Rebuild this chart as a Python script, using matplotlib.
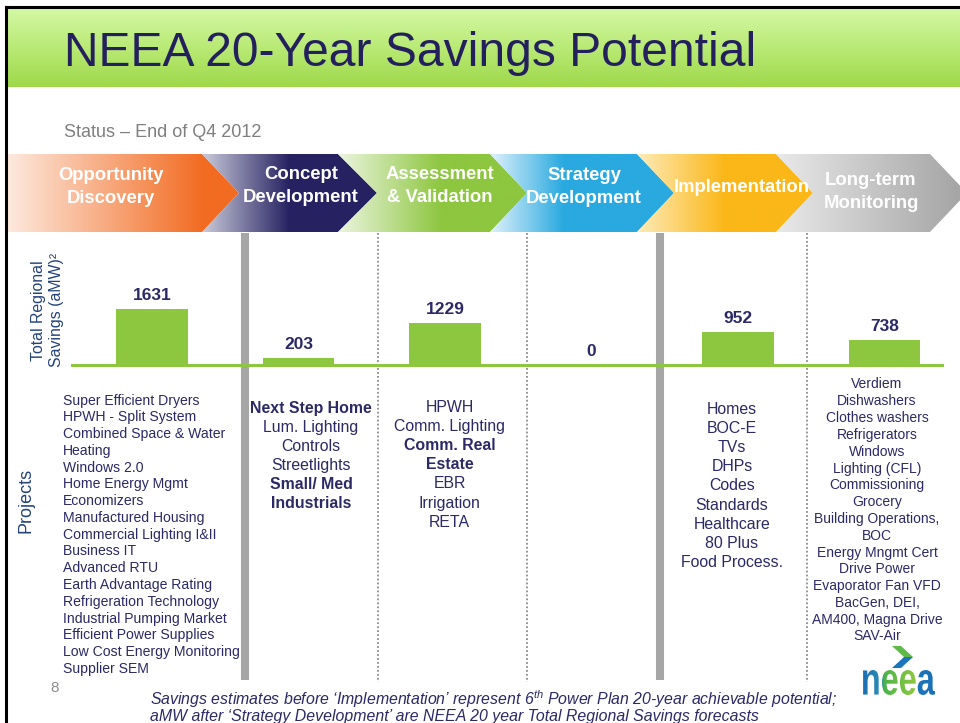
import numpy as np
import matplotlib.pyplot as plt
from matplotlib.patches import Polygon, PathPatch
from matplotlib.textpath import TextPath
from matplotlib.font_manager import FontProperties
from matplotlib.transforms import Affine2D
from matplotlib.colors import to_rgb

plt.rcParams['font.family'] = ['Liberation Sans', 'DejaVu Sans']
plt.rcParams['mathtext.fontset'] = 'custom'
plt.rcParams['mathtext.rm'] = 'Liberation Sans'
plt.rcParams['mathtext.it'] = 'Liberation Sans:italic'
plt.rcParams['mathtext.bf'] = 'Liberation Sans:bold'

# --- данные слайда ---
title = 'NEEA 20-Year Savings Potential'
status = 'Status – End of Q4 2012'
stages = ['Opportunity\nDiscovery', 'Concept\nDevelopment', 'Assessment\n& Validation',
          'Strategy\nDevelopment', 'Implementation', 'Long-term\nMonitoring']
savings = [1631, 203, 1229, 0, 952, 738]
ylabel_lines = ['Total Regional', 'Savings (aMW)²']

proj_discovery = ['Super Efficient Dryers', 'HPWH - Split System', 'Combined Space & Water',
                  'Heating', 'Windows 2.0', 'Home Energy Mgmt', 'Economizers',
                  'Manufactured Housing', 'Commercial Lighting I&II', 'Business IT',
                  'Advanced RTU', 'Earth Advantage Rating', 'Refrigeration Technology',
                  'Industrial Pumping Market', 'Efficient Power Supplies',
                  'Low Cost Energy Monitoring', 'Supplier SEM']
proj_concept = ['Next Step Home', 'Lum. Lighting', 'Controls', 'Streetlights',
                'Small/ Med', 'Industrials']
proj_assessment = ['HPWH', 'Comm. Lighting', 'Comm. Real', 'Estate', 'EBR',
                   'Irrigation', 'RETA']
proj_implementation = ['Homes', 'BOC-E', 'TVs', 'DHPs', 'Codes', 'Standards',
                       'Healthcare', '80 Plus', 'Food Process.']
proj_monitoring = ['Verdiem', 'Dishwashers', 'Clothes washers', 'Refrigerators', 'Windows',
                   'Lighting (CFL)', 'Commissioning', 'Grocery', 'Building Operations,',
                   'BOC', 'Energy Mngmt Cert', 'Drive Power', 'Evaporator Fan VFD',
                   'BacGen, DEI,', 'AM400, Magna Drive', 'SAV-Air']
bold_items = {'Next Step Home', 'Small/ Med', 'Industrials', 'Comm. Real', 'Estate'}

footer_1 = r'Savings estimates before ‘Implementation’ represent 6$^{\mathit{th}}$ Power Plan 20-year achievable potential;'
footer_2 = 'aMW after ‘Strategy Development’ are NEEA 20 year Total Regional Savings forecasts'
page_no = '8'

# цвета
NAVY = '#2b2966'
TITLE_C = '#24205e'
BLUE_LBL = '#24427a'
BAR_C = '#8dc63f'
stage_colors = ['#f26b21', '#262262', '#8dc63f', '#29a9e0', '#fbb718', '#a6a6a6']
stage_pale = ['#fde9de', '#cbcbdb', '#ecf5df', '#e0f2fb', '#fdebb8', '#e9e9e9']
stage_frac = [0.85, 0.5, 0.55, 0.4, 0.5, 0.95]


def gradient_fill(ax, pts, stops, vertical=False):
    # градиент, обрезанный по многоугольнику
    poly = Polygon(pts, closed=True, fc='none', ec='none')
    ax.add_patch(poly)
    xs = [p[0] for p in pts]
    ys = [p[1] for p in pts]
    t = np.linspace(0, 1, 256)
    pos = [s[0] for s in stops]
    cols = np.array([to_rgb(s[1]) for s in stops])
    row = np.stack([np.interp(t, pos, cols[:, k]) for k in range(3)], axis=1)
    img = row[:, None, :] if vertical else row[None, :, :]
    im = ax.imshow(img, extent=[min(xs), max(xs), max(ys), min(ys)], origin='upper',
                   aspect='auto', interpolation='bilinear', zorder=1)
    im.set_clip_path(poly)
    return im


fig = plt.figure(figsize=(9.6, 7.23), dpi=100)
ax = fig.add_axes([0, 0, 1, 1])

# зелёная шапка
gradient_fill(ax, [(7, 9), (960, 9), (960, 87), (7, 87)],
              [(0, '#d3f8a4'), (0.5, '#b9ea75'), (1, '#9ed84a')], vertical=True)
ax.text(64, 66, title, fontsize=34.6, color=TITLE_C, va='baseline', ha='left', zorder=3)
ax.text(64, 137, status, fontsize=13, color='#7f7f7f', va='baseline', ha='left', zorder=3)

# шевроны этапов
rt = [8, 202, 338, 490, 637, 776, 930]
tips = [None, 239, 377, 527, 674, 813, 967]
top, bot, mid = 154, 232, 193
text_pos = [(111, 187), (301, 186), (440, 186), (584, 187), (742, 188), (871, 192)]
for i in range(6):
    left, right, tip = rt[i], rt[i + 1], tips[i + 1]
    if i == 0:
        pts = [(left, top), (right, top), (tip, mid), (right, bot), (left, bot)]
    else:
        pts = [(left, top), (right, top), (tip, mid), (right, bot), (left, bot), (tips[i], mid)]
    gradient_fill(ax, pts, [(0, stage_pale[i]), (stage_frac[i], stage_colors[i]),
                            (1, stage_colors[i])])
    ax.text(text_pos[i][0], text_pos[i][1], stages[i], color='white', fontsize=13.3,
            fontweight='bold', ha='center', va='center', linespacing=1.45, zorder=3)

# разделители
for xv in [245, 660]:
    ax.plot([xv, xv], [233, 680], color='#a6a6a6', lw=5.8, solid_capstyle='butt', zorder=2)
for xv in [378, 527, 807]:
    ax.plot([xv, xv], [233, 682], color='#8c8c8c', lw=1.3, ls=(0, (1, 1.2)), zorder=2)

# подписи осей
ax.text(38, 311, ylabel_lines[0], rotation=90, fontsize=11.4, color=BLUE_LBL,
        ha='center', va='center')
ax.text(57, 310, ylabel_lines[1], rotation=90, fontsize=11.4, color=BLUE_LBL,
        ha='center', va='center')
ax.text(26, 500, 'Projects', rotation=90, fontsize=13, color=BLUE_LBL,
        ha='center', va='center')


def draw_list(items, x, y0, dy, fs, ha):
    for k, s in enumerate(items):
        ax.text(x, y0 + k * dy, s, fontsize=fs, color=NAVY, ha=ha, va='center_baseline',
                fontweight='bold' if s in bold_items else 'normal', zorder=3)


draw_list(proj_discovery, 63, 399, 16.77, 10.1, 'left')
draw_list(proj_concept, 311, 407, 19.1, 11.4, 'center')
draw_list(proj_assessment, 449.5, 405.5, 19.25, 11.4, 'center')
draw_list(proj_implementation, 732, 408, 19.1, 11.4, 'center')
draw_list(proj_monitoring, 877, 383, 16.8, 10, 'center')

# номер страницы и сноска
ax.text(55, 686, page_no, fontsize=11, color='#8c8c8c', ha='center', va='center_baseline')
ax.text(150, 697, footer_1, fontsize=11.45, style='italic', color=NAVY, ha='left',
        va='center_baseline')
ax.text(150, 715, footer_2, fontsize=11.45, style='italic', color=NAVY, ha='left',
        va='center_baseline')

# логотип neea
ax.add_patch(Polygon([(892, 646), (901, 646), (913, 657), (904, 657)], closed=True,
                     fc='#5dba47', ec='none', zorder=3))
ax.add_patch(Polygon([(904, 657), (913, 657), (901, 668), (892, 668)], closed=True,
                     fc='#1b75bc', ec='none', zorder=3))
tp = TextPath((0, 0), 'neea', size=1, prop=FontProperties(family='Liberation Sans', weight='bold'))
ext = tp.get_extents()
tr = Affine2D().translate(-ext.x0, -ext.y0).scale(72 / ext.width, -25 / ext.height).translate(863, 695)
logo = PathPatch(tp, transform=tr + ax.transData, fc='none', ec='none')
ax.add_patch(logo)
t_lin = np.linspace(0, 1, 256)
stops = [(0, '#1b6fb5'), (0.25, '#2a8fb0'), (0.3, '#4db44a'), (0.5, '#6cbf45'),
         (0.72, '#8dc63f'), (0.76, '#1b75bc'), (1, '#1b6fb5')]
cols = np.array([to_rgb(c) for _, c in stops])
row = np.stack([np.interp(t_lin, [p for p, _ in stops], cols[:, k]) for k in range(3)], axis=1)
im = ax.imshow(row[None, :, :], extent=[863, 935, 695, 670], origin='upper', aspect='auto',
               interpolation='bilinear', zorder=3)
im.set_clip_path(logo)

# рамка слайда
ax.plot([6, 6], [7, 723], color='black', lw=2.2, zorder=5)
ax.plot([6, 960], [7, 7], color='black', lw=2.2, zorder=5)

ax.set_xlim(0, 960)
ax.set_ylim(723, 0)
ax.axis('off')

# столбики экономии
bx = fig.add_axes([72 / 960, 1 - 365 / 723, 870 / 960, 125 / 723])
bx.patch.set_alpha(0)
xs = np.arange(len(savings))
bx.bar(xs, savings, width=0.485, color=BAR_C, zorder=2)
bx.axhline(0, color=BAR_C, lw=2.2, clip_on=False, zorder=3)
for xi, v in zip(xs, savings):
    bx.annotate(str(v), (xi, v), xytext=(0, 6.5), textcoords='offset points', ha='center',
                va='baseline', fontsize=12.5, fontweight='bold', color=NAVY)
bx.set_xlim((72 - 152) / 146.5, (942 - 152) / 146.5)
bx.set_ylim(0, 125 / (56 / 1631))
bx.axis('off')

fig.savefig('out.png', dpi=100)
